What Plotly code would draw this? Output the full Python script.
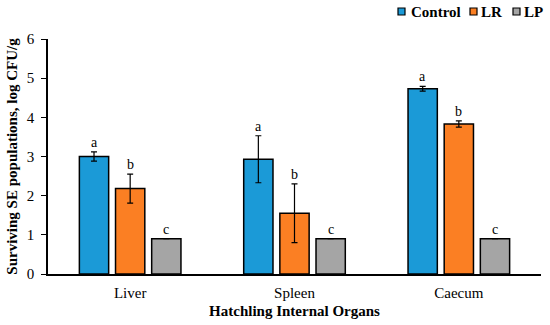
import plotly.graph_objects as go

organs = ["Liver", "Spleen", "Caecum"]
control = [3.00, 2.93, 4.73]
control_err = [0.12, 0.60, 0.06]
lr = [2.18, 1.55, 3.83]
lr_err = [0.37, 0.75, 0.08]
lp = [0.90, 0.90, 0.90]
lp_err = [0.0, 0.0, 0.0]
letters_control = ["a", "a", "a"]
letters_lr = ["b", "b", "b"]
letters_lp = ["c", "c", "c"]
series_names = ["Control", "LR", "LP"]
colors = ["#1b9ad7", "#fb7f23", "#a5a5a5"]

series = [
    (series_names[0], control, control_err, colors[0], letters_control, -36),
    (series_names[1], lr, lr_err, colors[1], letters_lr, 0),
    (series_names[2], lp, lp_err, colors[2], letters_lp, 36),
]

font = "Liberation Serif, Times New Roman, serif"
fig = go.Figure()
annotations = []
for name, vals, errs, color, lets, shift in series:
    fig.add_trace(go.Bar(
        name=name, x=organs, y=vals,
        marker=dict(color=color, line=dict(color="black", width=1.5)),
        error_y=dict(type="data", array=errs, visible=True, color="black",
                     thickness=1.2, width=3),
        showlegend=False,
    ))
    for o, v, e, l in zip(organs, vals, errs, lets):
        annotations.append(dict(x=o, y=v + e, xref="x", yref="y", text=l,
                                showarrow=False, xshift=shift, yanchor="bottom",
                                yshift=0, font=dict(family=font, size=14, color="black")))

# custom compact legend (paper coordinates of the plot area)
L, R, T, B = 48, 541, 39, 274
def px_x(p):
    return (p - L) / (R - L)
def px_y(p):
    return (B - p) / (B - T)

legend_sq = [398, 470, 513]
legend_txt = [409, 479, 522]
shapes = []
for name, color, sx, tx in zip(series_names, colors, legend_sq, legend_txt):
    shapes.append(dict(type="rect", xref="paper", yref="paper",
                       x0=px_x(sx), x1=px_x(sx + 7), y0=px_y(15), y1=px_y(8),
                       fillcolor=color, line=dict(color="black", width=1.2)))
    annotations.append(dict(x=px_x(tx), y=px_y(11.5), xref="paper", yref="paper",
                            text="<b>%s</b>" % name, showarrow=False,
                            xanchor="left", yanchor="middle",
                            font=dict(family=font, size=15, color="black")))

fig.update_layout(
    width=550, height=325,
    margin=dict(l=L, r=550 - R, t=T, b=325 - B, autoexpand=False),
    paper_bgcolor="white", plot_bgcolor="white",
    barmode="group", bargap=0.34, bargroupgap=0.19,
    font=dict(family=font, color="black"),
    annotations=annotations, shapes=shapes,
    showlegend=False,
)
fig.update_yaxes(range=[0, 6], dtick=1, showgrid=False, showline=True,
                 linecolor="black", linewidth=1.5, ticks="outside", ticklen=5,
                 tickcolor="black", tickfont=dict(size=15, family=font),
                 ticklabelstandoff=4,
                 title=dict(text="<b>Surviving SE populations, log CFU/g</b>",
                            font=dict(size=15, family=font), standoff=6),
                 zeroline=False, automargin=False)
fig.update_xaxes(showgrid=False, showline=True, linecolor="black", linewidth=1.5,
                 ticks="", tickfont=dict(size=15, family=font), automargin=False,
                 ticklabelstandoff=4,
                 title=dict(text="<b>Hatchling Internal Organs</b>",
                            font=dict(size=15, family=font), standoff=6))

fig.write_html("out.html", config={"displayModeBar": False},
               post_script="document.body.style.margin='0px';")
